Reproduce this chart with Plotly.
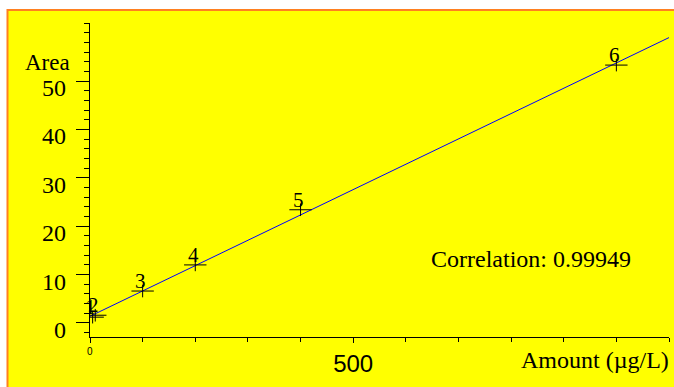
import numpy as np
import plotly.graph_objects as go

# Calibration standards
levels = ["1", "2", "3", "4", "5", "6"]
amount = [5, 10, 100, 200, 400, 1000]          # µg/L
area = [1.2, 1.6, 6.6, 12.0, 23.4, 53.3]
correlation = "0.99949"

# Axis labelling
y_ticks = [0, 10, 20, 30, 40, 50]
x_ticks = [0, 500]
x_ticktext = ["", "500"]
x_origin_label = "0"

# Linear calibration fit
slope, intercept = np.polyfit(amount, area, 1)
x_fit = np.array([0, 1100])
y_fit = intercept + slope * x_fit

serif = "Liberation Serif"
sans = "Liberation Sans"

fig = go.Figure()

fig.add_trace(go.Scatter(
    x=x_fit, y=y_fit, mode="lines",
    line=dict(color="#0000FF", width=1), hoverinfo="skip", showlegend=False,
))
# "+" markers: wide horizontal arm, short vertical arm
fig.add_trace(go.Scatter(
    x=amount, y=area, mode="markers",
    marker=dict(symbol="line-ew", size=16, line=dict(color="black", width=1)),
    showlegend=False,
))
fig.add_trace(go.Scatter(
    x=amount, y=area, mode="markers",
    marker=dict(symbol="line-ns", size=9, line=dict(color="black", width=1)),
    showlegend=False,
))

# Level numbers sitting on the markers
for lab, xv, yv in zip(levels, amount, area):
    fig.add_annotation(
        x=xv, y=yv, text=lab, showarrow=False, xanchor="center", yanchor="bottom",
        xshift=-2, yshift=-4, font=dict(family=serif, size=21, color="black"),
    )

# Y tick labels, set slightly below their ticks
for v in y_ticks:
    fig.add_annotation(
        xref="paper", x=-0.038, y=v, text=str(v), showarrow=False,
        xanchor="right", yanchor="middle", yshift=-7,
        font=dict(family=serif, size=24, color="black"),
    )

# Small origin label on the x axis
fig.add_annotation(
    x=0, yref="paper", y=-0.045, text=x_origin_label, showarrow=False,
    xanchor="center", yanchor="middle", font=dict(family=sans, size=10, color="black"),
)

fig.add_annotation(
    xref="paper", yref="paper", x=-0.031, y=0.873, text="Area", showarrow=False,
    xanchor="right", yanchor="middle", font=dict(family=serif, size=23, color="black"),
)
fig.add_annotation(
    xref="paper", yref="paper", x=0.938, y=0.248, text="Correlation: " + correlation,
    showarrow=False, xanchor="right", yanchor="middle",
    font=dict(family=serif, size=24, color="black"),
)
fig.add_annotation(
    xref="paper", yref="paper", x=1.0035, y=-0.073, text="Amount (µg/L)", showarrow=False,
    xanchor="right", yanchor="middle", font=dict(family=serif, size=24, color="black"),
)

# Yellow panel with orange frame
fig.add_shape(
    type="rect", xref="paper", yref="paper", layer="below",
    x0=-0.1425, x1=1.05, y0=-0.25, y1=1.0414,
    fillcolor="#FFFF00", line=dict(color="#FF8020", width=2),
)

fig.update_layout(
    width=674, height=387,
    margin=dict(l=90, r=5, t=23, b=50),
    paper_bgcolor="white", plot_bgcolor="rgba(0,0,0,0)",
    showlegend=False,
)
fig.update_xaxes(
    range=[0, 1100], tickvals=x_ticks, ticktext=x_ticktext,
    showgrid=False, zeroline=False, showline=True, linecolor="black", linewidth=1,
    ticks="outside", ticklen=5, tickcolor="black",
    minor=dict(dtick=100, ticks="outside", ticklen=4, tickcolor="black"),
    tickfont=dict(family=sans, size=24, color="black"),
)
fig.update_yaxes(
    range=[-2.9, 62], tickvals=y_ticks, showticklabels=False,
    showgrid=False, zeroline=False, showline=True, linecolor="black", linewidth=1,
    ticks="outside", ticklen=13, tickcolor="black",
    minor=dict(dtick=2, ticks="outside", ticklen=5, tickcolor="black"),
)

fig.write_html("out.html")
